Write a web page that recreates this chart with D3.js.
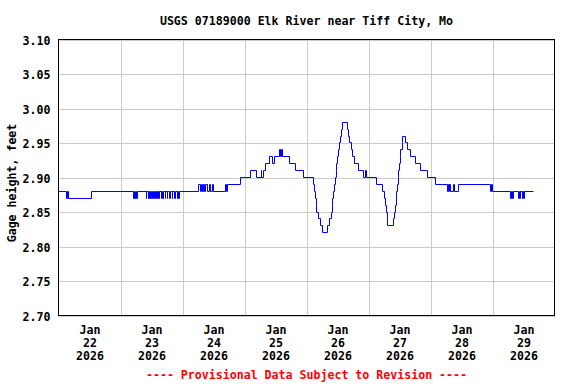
<!DOCTYPE html>
<html><head><meta charset="utf-8">
<script src="https://cdn.jsdelivr.net/npm/d3@7"></script>
<style>body{margin:0;background:#fff}svg{display:block}</style>
</head><body><svg id="c" width="576" height="384"></svg>
<script>
const chartTitle = "USGS 07189000 Elk River near Tiff City, Mo";
const yAxisTitle = "Gage height, feet";
const footerText = "---- Provisional Data Subject to Revision ----";
const yTicks = [2.70, 2.75, 2.80, 2.85, 2.90, 2.95, 3.00, 3.05, 3.10];
const xTickDays = ["2026-01-22","2026-01-23","2026-01-24","2026-01-25","2026-01-26","2026-01-27","2026-01-28","2026-01-29"];
const xDomain = ["2026-01-22 00:00", "2026-01-30 00:00"];

const stageTimes = [
"2026-01-22 00:00","2026-01-22 03:00","2026-01-22 03:30","2026-01-22 04:00","2026-01-22 12:45",
"2026-01-23 05:00","2026-01-23 05:15","2026-01-23 05:30","2026-01-23 05:45","2026-01-23 06:15","2026-01-23 06:30",
"2026-01-23 10:00","2026-01-23 10:15","2026-01-23 10:45","2026-01-23 11:00","2026-01-23 11:15","2026-01-23 11:30",
"2026-01-23 11:45","2026-01-23 12:00","2026-01-23 12:30","2026-01-23 12:45","2026-01-23 13:15","2026-01-23 13:30",
"2026-01-23 13:45","2026-01-23 14:00","2026-01-23 14:30","2026-01-23 14:45","2026-01-23 15:00","2026-01-23 15:15",
"2026-01-23 15:45","2026-01-23 16:00","2026-01-23 16:15","2026-01-23 16:30","2026-01-23 17:15","2026-01-23 17:30",
"2026-01-23 18:00","2026-01-23 18:15","2026-01-23 19:00","2026-01-23 19:15","2026-01-23 20:00","2026-01-23 20:15",
"2026-01-23 21:00","2026-01-23 21:15","2026-01-23 22:00","2026-01-23 22:15","2026-01-23 22:30","2026-01-23 22:45",
"2026-01-24 06:15","2026-01-24 07:00","2026-01-24 07:15","2026-01-24 07:45","2026-01-24 08:00","2026-01-24 08:30",
"2026-01-24 09:00","2026-01-24 09:45","2026-01-24 10:30","2026-01-24 11:00","2026-01-24 11:30","2026-01-24 12:00",
"2026-01-24 16:45","2026-01-24 17:00","2026-01-24 17:15","2026-01-24 22:30",
"2026-01-25 02:30","2026-01-25 04:45","2026-01-25 06:30","2026-01-25 06:45","2026-01-25 07:15","2026-01-25 08:00",
"2026-01-25 09:30","2026-01-25 11:00","2026-01-25 11:30","2026-01-25 13:30","2026-01-25 14:00","2026-01-25 14:15",
"2026-01-25 14:45","2026-01-25 17:30","2026-01-25 19:45","2026-01-25 23:00",
"2026-01-26 02:45","2026-01-26 03:15","2026-01-26 03:30","2026-01-26 03:45","2026-01-26 04:00","2026-01-26 04:30",
"2026-01-26 05:15","2026-01-26 06:15","2026-01-26 08:15","2026-01-26 09:00","2026-01-26 09:30","2026-01-26 10:00",
"2026-01-26 10:15","2026-01-26 10:30","2026-01-26 10:45","2026-01-26 11:15","2026-01-26 11:30","2026-01-26 11:45",
"2026-01-26 12:00","2026-01-26 12:30","2026-01-26 12:45","2026-01-26 13:15","2026-01-26 13:30","2026-01-26 14:00",
"2026-01-26 15:45","2026-01-26 16:15","2026-01-26 16:45","2026-01-26 17:15","2026-01-26 17:45","2026-01-26 18:45",
"2026-01-26 20:15","2026-01-26 22:15","2026-01-26 23:00","2026-01-26 23:15",
"2026-01-27 03:00","2026-01-27 05:15","2026-01-27 06:00","2026-01-27 06:30","2026-01-27 07:00","2026-01-27 07:15",
"2026-01-27 07:30","2026-01-27 09:45","2026-01-27 10:15","2026-01-27 10:30","2026-01-27 10:45","2026-01-27 11:00",
"2026-01-27 11:15","2026-01-27 11:30","2026-01-27 11:45","2026-01-27 12:00","2026-01-27 12:15","2026-01-27 12:30",
"2026-01-27 13:00","2026-01-27 13:15","2026-01-27 14:15","2026-01-27 15:15","2026-01-27 16:15","2026-01-27 18:15",
"2026-01-27 20:00","2026-01-27 23:00",
"2026-01-28 02:00","2026-01-28 06:45","2026-01-28 07:00","2026-01-28 07:15","2026-01-28 07:30","2026-01-28 07:45",
"2026-01-28 09:00","2026-01-28 09:15","2026-01-28 10:45","2026-01-28 23:15","2026-01-28 23:30",
"2026-01-29 00:00","2026-01-29 07:00","2026-01-29 07:15","2026-01-29 07:45","2026-01-29 08:00","2026-01-29 10:15",
"2026-01-29 10:30","2026-01-29 10:45","2026-01-29 11:00","2026-01-29 11:45","2026-01-29 12:00","2026-01-29 12:15",
"2026-01-29 12:30","2026-01-29 15:45"
];
const stageValues = [
2.88,2.87,2.88,2.87,2.88,
2.87,2.88,2.87,2.88,2.87,2.88,
2.87,2.88,2.87,2.88,2.87,2.88,
2.87,2.88,2.87,2.88,2.87,2.88,
2.87,2.88,2.87,2.88,2.87,2.88,
2.87,2.88,2.87,2.88,2.87,2.88,
2.87,2.88,2.87,2.88,2.87,2.88,
2.87,2.88,2.87,2.88,2.87,2.88,
2.89,2.88,2.89,2.88,2.89,2.88,
2.89,2.88,2.89,2.88,2.89,2.88,
2.89,2.88,2.89,2.90,
2.91,2.90,2.91,2.90,2.91,2.92,
2.93,2.92,2.93,2.94,2.93,2.94,
2.93,2.92,2.91,2.90,
2.89,2.88,2.87,2.86,2.85,2.84,
2.83,2.82,2.83,2.84,2.85,2.86,
2.87,2.88,2.89,2.90,2.91,2.92,
2.93,2.94,2.95,2.96,2.97,2.98,
2.97,2.96,2.95,2.94,2.93,2.92,
2.91,2.90,2.91,2.90,
2.89,2.88,2.87,2.86,2.85,2.84,
2.83,2.84,2.85,2.86,2.87,2.88,
2.89,2.90,2.91,2.92,2.93,2.94,
2.95,2.96,2.95,2.94,2.93,2.92,
2.91,2.90,
2.89,2.88,2.89,2.88,2.89,2.88,
2.89,2.88,2.89,2.88,2.89,
2.88,2.87,2.88,2.87,2.88,2.87,
2.88,2.87,2.88,2.87,2.88,2.87,
2.88,2.88
];

const parse = d3.timeParse("%Y-%m-%d %H:%M");
const parseDay = d3.timeParse("%Y-%m-%d");
const data = stageTimes.map((t, i) => ({t: parse(t), v: stageValues[i]}));

const FONT = "'DejaVu Sans Mono', monospace";
const svg = d3.select("#c");
svg.append("rect").attr("width", 576).attr("height", 384).attr("fill", "#fff");

const L = 58.5, R = 554.5, T = 39.5, B = 315.5;
const x = d3.scaleTime().domain(xDomain.map(parse)).range([L, R]);
const y = d3.scaleLinear().domain([2.70, 3.10]).range([B, T]);

// grid
const dayLines = d3.timeDay.range(parse(xDomain[0]), parse(xDomain[1])).slice(1);
const gx = svg.append("g").attr("transform", `translate(0,${B})`)
  .call(d3.axisBottom(x).tickValues(dayLines).tickSize(-(B - T)).tickFormat(""));
gx.select(".domain").remove();
gx.selectAll("line").attr("stroke", "#cccccc").attr("shape-rendering", "crispEdges");

const gy = svg.append("g").attr("transform", `translate(${L},0)`)
  .call(d3.axisLeft(y).tickValues(yTicks).tickSize(-(R - L)).tickFormat(""));
gy.select(".domain").remove();
gy.selectAll("line").attr("stroke", "#cccccc").attr("shape-rendering", "crispEdges");

// line (snapped to pixel centres for a crisp 1px trace)
const line = d3.line()
  .x(d => Math.floor(x(d.t)) + 0.5)
  .y(d => Math.floor(y(d.v)) + 0.5)
  .curve(d3.curveStepAfter);
svg.append("path").datum(data).attr("d", line)
  .attr("fill", "none").attr("stroke", "#0000ff").attr("stroke-width", 1);

// border
svg.append("rect").attr("x", L).attr("y", T).attr("width", R - L).attr("height", B - T)
  .attr("fill", "none").attr("stroke", "#000").attr("stroke-width", 1)
  .attr("shape-rendering", "crispEdges");

// y labels
const yl = svg.append("g").attr("transform", `translate(${L},0)`)
  .call(d3.axisLeft(y).tickValues(yTicks).tickSize(0).tickPadding(8).tickFormat(d3.format(".2f")));
yl.select(".domain").remove();
yl.selectAll("text").attr("font-family", FONT).attr("font-weight", "bold")
  .attr("font-size", "11.6px").attr("fill", "#000").attr("dy", "0.4em");

// x labels
const noons = xTickDays.map(d => d3.timeHour.offset(parseDay(d), 12));
const xl = svg.append("g").attr("transform", `translate(0,${B})`)
  .call(d3.axisBottom(x).tickValues(noons).tickSize(0).tickFormat(""));
xl.select(".domain").remove();
xl.selectAll(".tick").each(function(d) {
  const t = d3.select(this).append("text").attr("text-anchor", "middle")
    .attr("font-family", FONT).attr("font-weight", "bold").attr("font-size", "11.6px").attr("fill", "#000");
  [d3.timeFormat("%b")(d), d3.timeFormat("%d")(d), d3.timeFormat("%Y")(d)].forEach((s, i) => {
    t.append("tspan").attr("x", 0).attr("y", 18 + i * 13.3).text(s);
  });
});

// title
svg.append("text").attr("x", (L + R) / 2).attr("y", 25).attr("text-anchor", "middle")
  .attr("font-family", FONT).attr("font-weight", "bold").attr("font-size", "11.6px").text(chartTitle);

// y axis title
svg.append("text").attr("transform", "translate(16,183) rotate(-90)").attr("text-anchor", "middle")
  .attr("font-family", FONT).attr("font-weight", "bold").attr("font-size", "11.6px").text(yAxisTitle);

// footer
svg.append("text").attr("x", (L + R) / 2).attr("y", 379).attr("text-anchor", "middle")
  .attr("font-family", FONT).attr("font-weight", "bold").attr("font-size", "11.6px")
  .attr("fill", "#ff0000").text(footerText);
</script>
</body></html>
